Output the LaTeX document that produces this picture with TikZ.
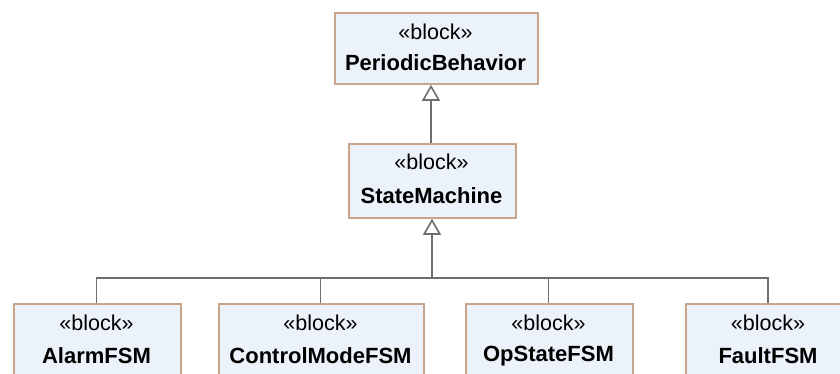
\documentclass[tikz,border=0pt]{standalone}
\usepackage{fontspec}
\setmainfont{Liberation Sans}
\usetikzlibrary{arrows.meta}
\definecolor{boxborder}{HTML}{C8A48A}
\definecolor{boxfill}{HTML}{EBF2FA}
\definecolor{conncol}{HTML}{6E6E6E}
\tikzset{
  blockbox/.style={draw=boxborder, fill=boxfill, line width=1.8pt, inner sep=0pt, anchor=north west},
  stereo/.style={inner sep=0pt, font=\fontsize{21.5}{24}\selectfont},
  bname/.style={inner sep=0pt, font=\fontsize{22}{24}\selectfont\bfseries},
  conn/.style={draw=conncol, line width=1.8pt},
  gen/.style={conn, -{Triangle[width=18pt,length=16pt,fill=white,line width=1.6pt]}}
}
\begin{document}
\begin{tikzpicture}[x=1pt,y=-1pt]
\useasboundingbox (0,0) rectangle (840,373);
\clip (0,0) rectangle (840,373);
\fill[white] (0,0) rectangle (840,373);
% boxes
\node[blockbox, minimum width=203pt, minimum height=71pt] (pb) at (334,12) {};
\node[blockbox, minimum width=167pt, minimum height=74pt] (sm) at (348,143) {};
\node[blockbox, minimum width=167pt, minimum height=100pt] (alarm) at (13,303) {};
\node[blockbox, minimum width=205pt, minimum height=100pt] (ctrl) at (218,303) {};
\node[blockbox, minimum width=167pt, minimum height=100pt] (ops) at (465,303) {};
\node[blockbox, minimum width=166pt, minimum height=100pt] (fault) at (685,303) {};
% texts
\node[stereo] (pbs) at (435.5,32) {«block»};
\node[bname] (pbn) at (435.5,63) {PeriodicBehavior};
\node[stereo] (sms) at (431.5,162) {«block»};
\node[bname] (smn) at (431.5,196) {StateMachine};
\node[stereo] (as) at (96.5,323) {«block»};
\node[bname] (an) at (96.5,356) {AlarmFSM};
\node[stereo] (cs) at (320.5,323) {«block»};
\node[bname] (cn) at (320.5,356) {ControlModeFSM};
\node[stereo] (os) at (548.5,323) {«block»};
\node[bname] (on) at (548.5,356) {OpStateFSM};
\node[stereo] (fs) at (768,323) {«block»};
\node[bname] (fn) at (768,356) {FaultFSM};
% connectors
\coordinate (bus) at (432,278);
\coordinate (aup) at (96.5,303);
\coordinate (cup) at (320.5,303);
\coordinate (oup) at (548.5,303);
\coordinate (fup) at (768,303);
\coordinate (smtop) at (431,143);
\draw[gen] (smtop) -- (smtop |- pb.south);
\draw[conn] (aup) |- (bus);
\draw[conn] (bus) -| (fup);
\draw[conn] (cup) -- (cup |- bus);
\draw[conn] (oup) -- (oup |- bus);
\draw[gen] (bus) -- (bus |- sm.south);
\end{tikzpicture}
\end{document}
